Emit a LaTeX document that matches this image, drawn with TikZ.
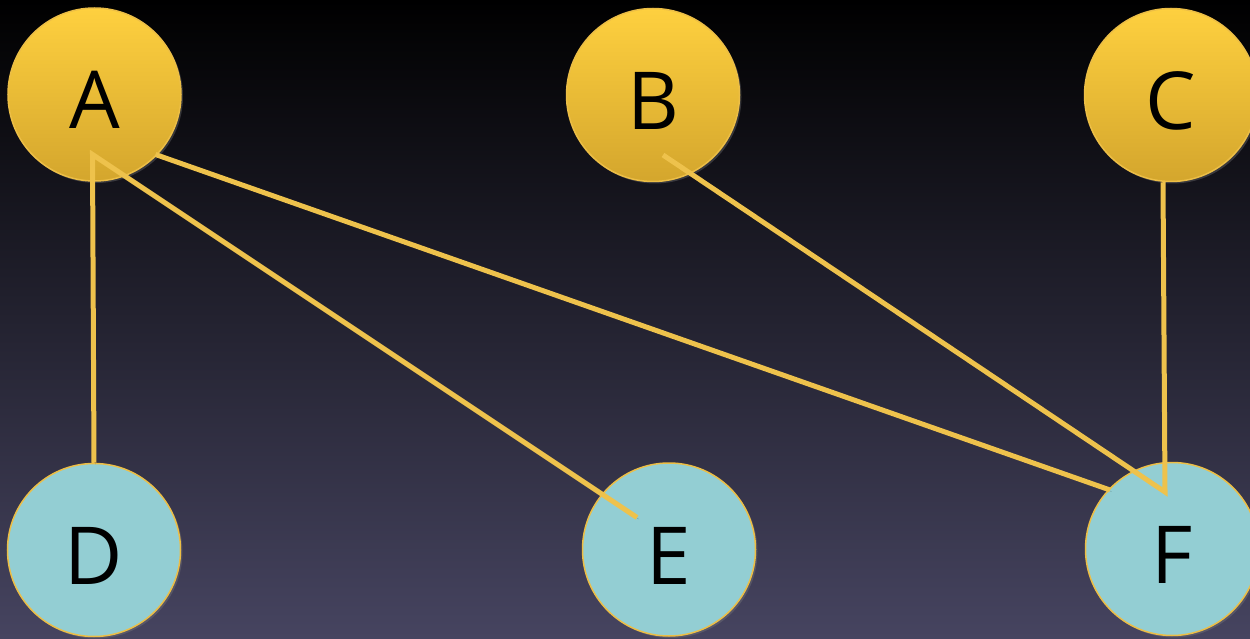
\documentclass[tikz,border=0pt]{standalone}
\usepackage{fontspec}
\setmainfont{Open Sans}
\usepackage{tikz}
\usetikzlibrary{calc,shadows}

\definecolor{linkyellow}{RGB}{238,194,76}
\definecolor{rimyellow}{RGB}{236,190,70}
\definecolor{goldtop}{RGB}{254,208,63}
\definecolor{goldbot}{RGB}{212,166,45}
\definecolor{tealfill}{RGB}{147,206,211}
\definecolor{skymid}{RGB}{36,33,62}
\definecolor{skybot}{RGB}{70,68,96}

\begin{document}
\begin{tikzpicture}[x=1pt,y=1pt,
    ball/.style={circle,minimum size=173,inner sep=0,draw=rimyellow,line width=1.5,
      font=\fontsize{80}{80}\selectfont,text height=69,text depth=0,
      drop shadow={opacity=0.35,shadow xshift=2,shadow yshift=-2}},
    topball/.style={ball,top color=goldtop,bottom color=goldbot},
    lowball/.style={ball,fill=tealfill},
    link/.style={draw=linkyellow,line width=5,
      preaction={draw=black,opacity=0.25,transform canvas={shift={(1.5,-1.5)}}}}]
      \useasboundingbox (0,0) rectangle (1250,638);
      \shade[top color=black,middle color=skymid,bottom color=skybot] (0,0) rectangle (1250,638);

      \node[topball] (A) at (94.5,543.5) {A}; \node[topball] (B) at (653,543) {B};
      \node[topball] (C) at (1171,543) {C};
      \node[lowball] (D) at (94,88) {D}; \node[lowball] (E) at (669,88.5) {E};
      \node[lowball] (F) at (1172,89) {F};

      \draw[link] (D.north) -- ([shift={(-2,-60)}]A.center) -- ([shift={(-32,32)}]E.center);
      \draw[link] ([shift={(61,-60)}]A.center) -- ([shift={(-62,59)}]F.center);
      \draw[link] ([shift={(10,-60)}]B.center) -- ([shift={(-7,57)}]F.center) -- ([shift={(-8,0)}]C.south);
    \end{tikzpicture}
\end{document}
